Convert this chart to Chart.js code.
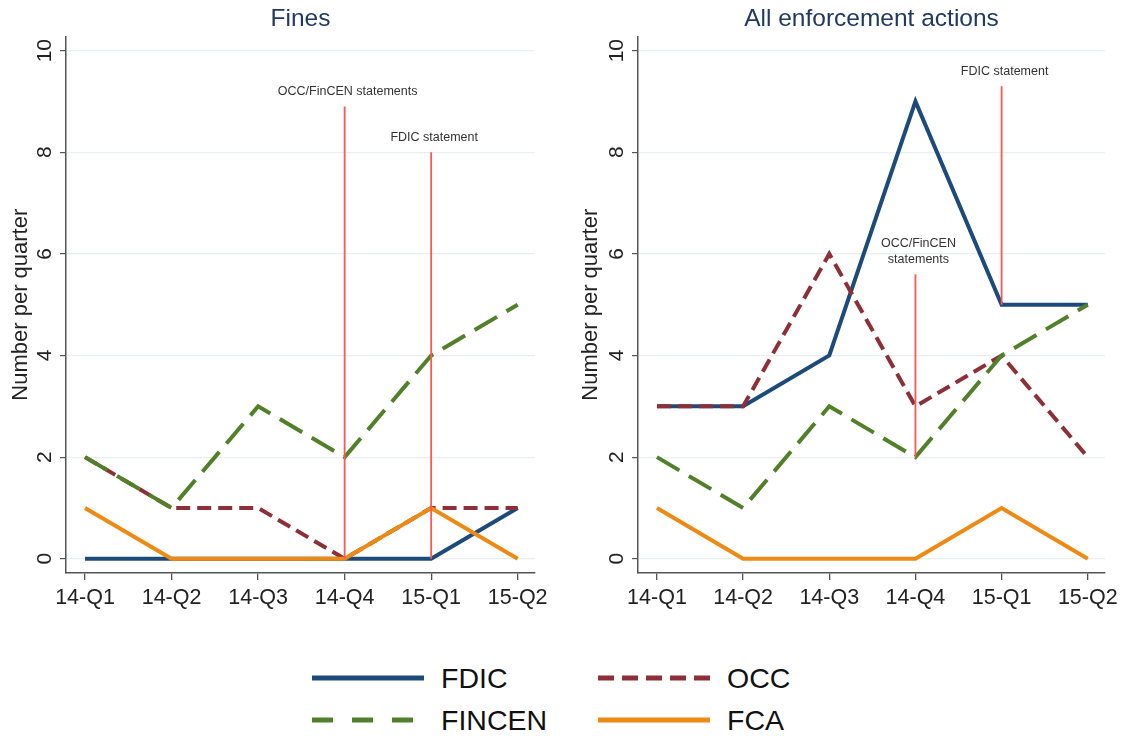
<!DOCTYPE html>
<html>
<head>
<meta charset="utf-8">
<script src="https://cdn.jsdelivr.net/npm/chart.js@4.4.1/dist/chart.umd.min.js"></script>
<style>
  body { margin: 0; background: #fff; width: 1125px; height: 736px; position: relative; overflow: hidden;
         font-family: 'Liberation Sans', Arial, sans-serif; }
  #left { position: absolute; left: 0; top: 0; }
  #right { position: absolute; left: 570px; top: 0; }
  .key { position: absolute; display: flex; align-items: center; font-size: 28.5px; color: #111; height: 32px; }
  .key svg { margin-right: 17px; }
</style>
</head>
<body>
<canvas id="left" width="570" height="630"></canvas>
<canvas id="right" width="555" height="630"></canvas>
<div id="legend"></div>
<script>
const quarters = ['14-Q1', '14-Q2', '14-Q3', '14-Q4', '15-Q1', '15-Q2'];
const yTicks = [0, 2, 4, 6, 8, 10];
const seriesNames = ['FDIC', 'OCC', 'FINCEN', 'FCA'];

// Fines
const finesFDIC = [0, 0, 0, 0, 0, 1];
const finesOCC = [2, 1, 1, 0, 1, 1];
const finesFINCEN = [2, 1, 3, 2, 4, 5];
const finesFCA = [1, 0, 0, 0, 1, 0];

// All enforcement actions
const allFDIC = [3, 3, 4, 9, 5, 5];
const allOCC = [3, 3, 6, 3, 4, 2];
const allFINCEN = [2, 1, 3, 2, 4, 5];
const allFCA = [1, 0, 0, 0, 1, 0];

// policy statements (quarter index, line runs from..to in counts)
const finesEventAt = [3, 4];
const finesEventFrom = [0, 0];
const finesEventTo = [8.9, 8];
const finesEventText = [['OCC/FinCEN statements'], ['FDIC statement']];

const allEventAt = [3, 4];
const allEventFrom = [2, 5];
const allEventTo = [5.6, 9.3];
const allEventText = [['OCC/FinCEN', 'statements'], ['FDIC statement']];

const colors = ['#1c4b7b', '#8e2f37', '#50802a', '#ee8a14'];
const dashes = [[], [14, 7], [26, 11], []];
const legendDashes = [[], [16, 8], [21, 19], []];
const drawOrder = [4, 3, 2, 1]; // FCA on top, FDIC at the bottom
const FONT = "'Liberation Sans', Arial, sans-serif";

// rotated y tick labels + statement captions
const decorations = {
  id: 'decorations',
  afterDraw(chart, args, opts) {
    const ctx = chart.ctx, x = chart.scales.x, y = chart.scales.y;
    ctx.save();
    ctx.fillStyle = '#222';
    ctx.font = '21px ' + FONT;
    ctx.textAlign = 'center';
    ctx.textBaseline = 'middle';
    yTicks.forEach(v => {
      ctx.save();
      ctx.translate(y.right - 21, y.getPixelForValue(v));
      ctx.rotate(-Math.PI / 2);
      ctx.fillText(String(v), 0, 0);
      ctx.restore();
    });
    ctx.font = '12.5px ' + FONT;
    ctx.fillStyle = '#333';
    opts.at.forEach((a, i) => {
      const lines = opts.text[i];
      const px = x.getPixelForValue(a) + 3;
      const py = y.getPixelForValue(opts.to[i]) - 15;
      lines.forEach((t, j) => ctx.fillText(t, px, py - (lines.length - 1 - j) * 16));
    });
    ctx.restore();
  }
};

function makeChart(id, title, series, evAt, evFrom, evTo, evText, yWidth, padRight) {
  const datasets = series.map((vals, i) => ({
    label: seriesNames[i],
    data: vals.map((v, k) => ({ x: k, y: v })),
    borderColor: colors[i],
    borderDash: dashes[i],
    borderWidth: 4,
    pointRadius: 0,
    fill: false,
    tension: 0,
    order: drawOrder[i]
  }));
  evAt.forEach((a, i) => {
    datasets.push({
      label: evText[i].join(' '),
      data: [{ x: a, y: evFrom[i] }, { x: a, y: evTo[i] }],
      borderColor: '#ff5555',
      borderWidth: 1.8,
      pointRadius: 0,
      order: 0
    });
  });

  return new Chart(document.getElementById(id), {
    type: 'line',
    data: { datasets },
    options: {
      responsive: false,
      animation: false,
      layout: { padding: { left: 0, right: padRight, top: 0, bottom: 0 } },
      plugins: {
        legend: { display: false },
        tooltip: { enabled: false },
        title: {
          display: true,
          text: title,
          color: '#1f3864',
          fullSize: false,
          font: { size: 24.5, family: FONT, weight: 'normal' },
          padding: { top: 5, bottom: 2 }
        },
        decorations: { at: evAt, to: evTo, text: evText }
      },
      scales: {
        x: {
          type: 'linear',
          min: -0.22,
          max: 5.2,
          afterBuildTicks: s => { s.ticks = quarters.map((q, k) => ({ value: k })); },
          afterFit: s => { s.height = 57; },
          ticks: {
            callback: v => quarters[v],
            color: '#222',
            font: { size: 21.5, family: FONT },
            padding: 5,
            maxRotation: 0
          },
          grid: { drawOnChartArea: false, tickLength: 7, tickColor: '#555', lineWidth: 1.3 },
          border: { color: '#555', width: 1.5 }
        },
        y: {
          min: -0.28,
          max: 10.28,
          afterBuildTicks: s => { s.ticks = yTicks.map(v => ({ value: v })); },
          afterFit: s => { s.width = yWidth; },
          ticks: { display: false },
          title: {
            display: true,
            text: 'Number per quarter',
            color: '#222',
            font: { size: 22, family: FONT },
            padding: { top: 8, bottom: 0 }
          },
          grid: { color: '#e8f0f0', lineWidth: 1.2, tickLength: 6, tickColor: '#555' },
          border: { color: '#555', width: 1.5 }
        }
      }
    },
    plugins: [decorations]
  });
}

makeChart('left', 'Fines', [finesFDIC, finesOCC, finesFINCEN, finesFCA],
  finesEventAt, finesEventFrom, finesEventTo, finesEventText, 66, 35);
makeChart('right', 'All enforcement actions', [allFDIC, allOCC, allFINCEN, allFCA],
  allEventAt, allEventFrom, allEventTo, allEventText, 68, 20);

// shared legend below both panels
const legend = document.getElementById('legend');
const keyLeft = [312, 598];
const keyTop = [662, 704];
seriesNames.forEach((name, i) => {
  const col = i % 2, row = Math.floor(i / 2);
  const div = document.createElement('div');
  div.className = 'key';
  div.style.left = keyLeft[col] + 'px';
  div.style.top = keyTop[row] + 'px';
  const d = legendDashes[i].join(' ');
  div.innerHTML = '<svg width="112" height="10"><line x1="0" y1="5" x2="112" y2="5" stroke="' + colors[i] +
    '" stroke-width="5"' + (d ? ' stroke-dasharray="' + d + '"' : '') + '/></svg><span>' + name + '</span>';
  legend.appendChild(div);
});
</script>
</body>
</html>
